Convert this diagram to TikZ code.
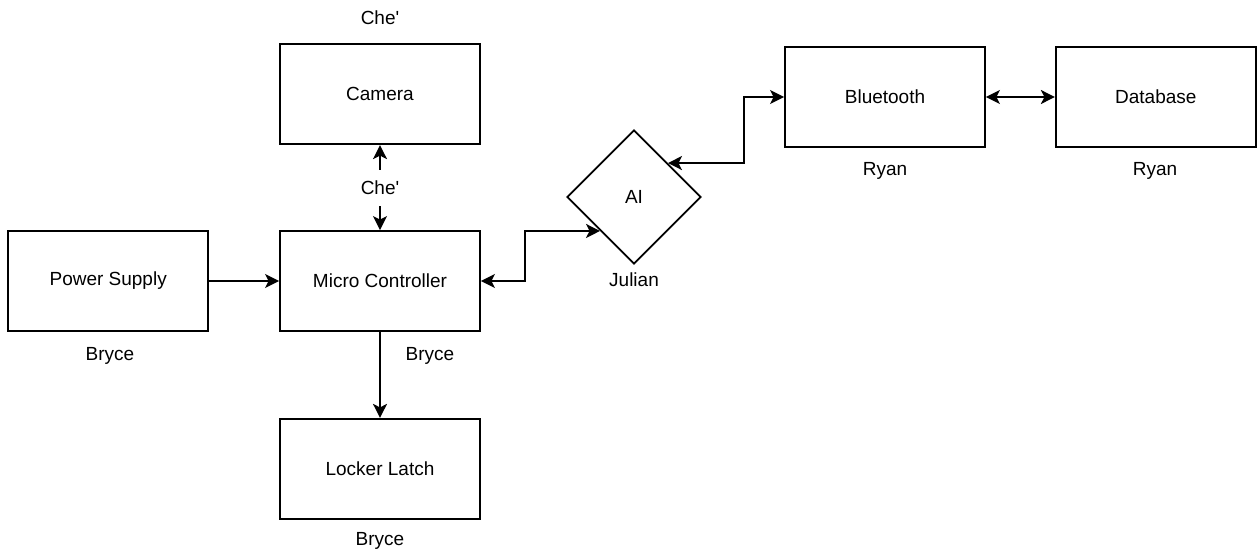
\documentclass[tikz,border=0pt]{standalone}
\usepackage{fontspec}
\setmainfont{Liberation Sans}
\usetikzlibrary{positioning, shapes.geometric, arrows.meta}

\begin{document}
\begin{tikzpicture}[x=1pt, y=-1pt,
    block/.style={draw, line width=1.8pt, minimum width=200pt, minimum height=100pt, align=center, font=\fontsize{19}{22}\selectfont},
    tag/.style={font=\fontsize{19}{22}\selectfont},
    link/.style={line width=1.8pt, -{Stealth[length=14pt, width=14pt, inset=3.5pt]}},
    both/.style={line width=1.8pt, {Stealth[length=14pt, width=14pt, inset=3.5pt]}-{Stealth[length=14pt, width=14pt, inset=3.5pt]}}
    ]

    \useasboundingbox (0,0) rectangle (1257,552);

    % Create the blocks
    \node[block] (mcu) at (380,281) {Micro Controller};
    \node[block, left=70pt of mcu] (psu) {Power Supply};
    \node[block, above=85pt of mcu] (cam) {Camera};
    \node[block, below=86pt of mcu] (latch) {Locker Latch};
    \node[diamond, draw, line width=1.8pt, minimum width=134pt, minimum height=134pt, tag] (ai) at (634,197) {AI};
    \node[block] (bt) at (885,97) {Bluetooth};
    \node[block, right=69pt of bt] (db) {Database};

    % Names
    \node[tag] (camtag) at (380,18) {Che\textquotesingle};
    \node[tag] (psutag) at (110,356) {Bryce};
    \node[tag] (mcutag) at (430,356) {Bryce};
    \node[tag] (latchtag) at (380,541) {Bryce};
    \node[tag] (aitag) at (634,280) {Julian};
    \node[tag] (bttag) at (885,171) {Ryan};
    \node[tag] (dbtag) at (1155,171) {Ryan};

    % Arrows
    \draw[both] (cam) -- node[tag, fill=white, inner ysep=11pt] {Che\textquotesingle} (mcu);
    \draw[link] (psu) -- (mcu);
    \draw[link] (mcu) -- (latch);
    \draw[both] (mcu.east) -- ++(44,0) |- (ai.south west);
    \draw[both] (ai.north east) -- ++(76,0) |- (bt.west);
    \draw[both] (bt) -- (db);

\end{tikzpicture}
\end{document}
